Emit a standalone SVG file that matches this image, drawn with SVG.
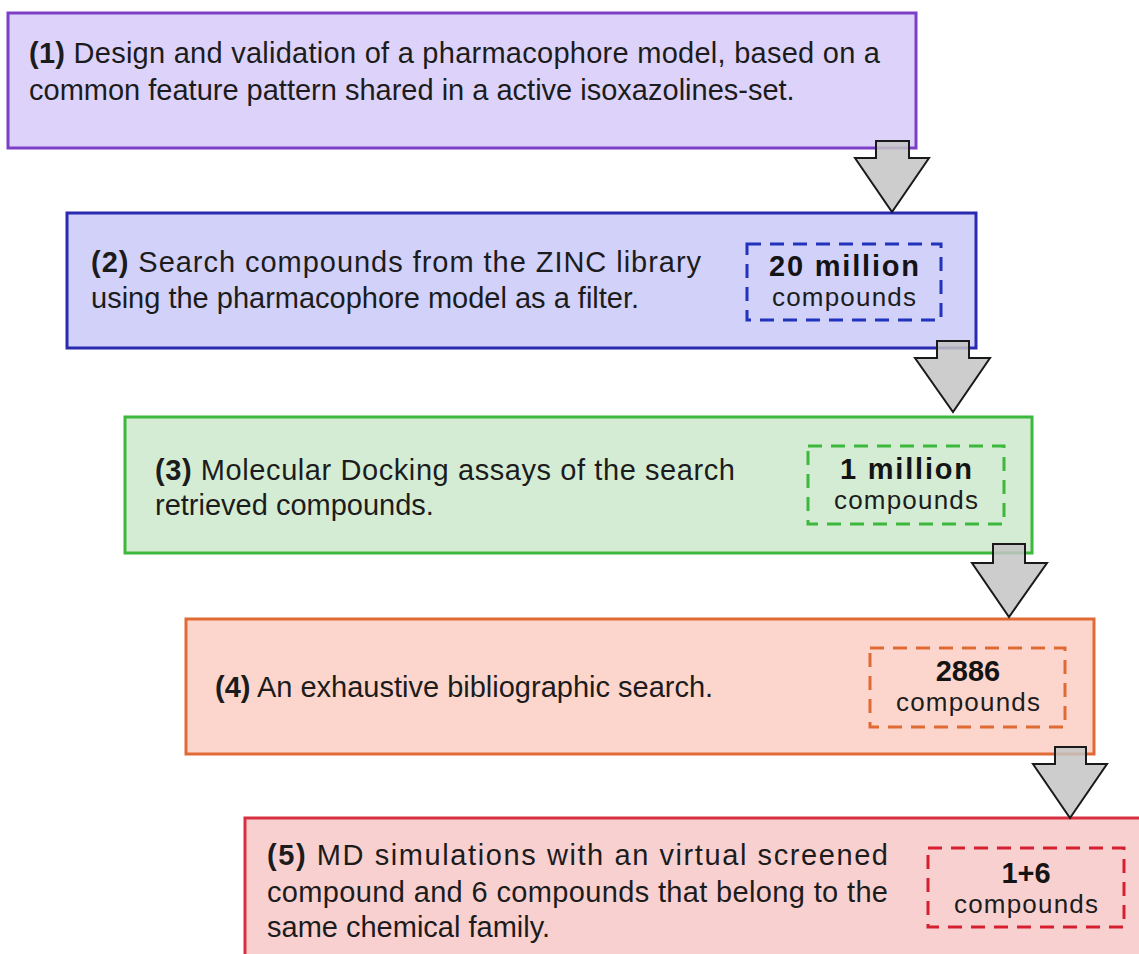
<svg xmlns="http://www.w3.org/2000/svg" width="1139" height="954" viewBox="0 0 1139 954">
<style>
.box{stroke-width:3}
.t{font-family:"Liberation Sans",Arial,sans-serif;font-size:29px;fill:#1c1c1c}
.b{font-weight:bold}
.num{font-family:"Liberation Sans",Arial,sans-serif;font-size:29px;font-weight:bold;fill:#141414;text-anchor:middle}
.cmp{font-family:"Liberation Sans",Arial,sans-serif;font-size:26px;fill:#1c1c1c;text-anchor:middle}
.dash{fill:none;stroke-width:3;stroke-dasharray:14 9}
.arrow{fill:#c4c4c4;fill-opacity:0.85;stroke:#1a1a1a;stroke-width:2;stroke-linejoin:miter}
</style>
<rect width="1139" height="954" fill="#ffffff"/>
<g id="node1">
<rect class="box" x="8" y="13" width="908" height="135" fill="#ddd3fa" stroke="#7d3fc6"/>
<text class="t" x="29" y="63" textLength="851" lengthAdjust="spacing"><tspan class="b">(1)</tspan> Design and validation of a pharmacophore model, based on a</text>
<text class="t" x="29" y="100">common feature pattern shared in a active isoxazolines-set.</text>
</g>
<g id="node2">
<rect class="box" x="67" y="213" width="909" height="135" fill="#d1d1fa" stroke="#2a2ab0"/>
<text class="t" x="91" y="272" textLength="610" lengthAdjust="spacing"><tspan class="b">(2)</tspan> Search compounds from the ZINC library</text>
<text class="t" x="91" y="308">using the pharmacophore model as a filter.</text>
<rect class="dash" x="747" y="244" width="194" height="76" stroke="#2233bb"/>
<text class="num" x="844" y="276" textLength="150" lengthAdjust="spacing">20 million</text>
<text class="cmp" x="844" y="306" textLength="144" lengthAdjust="spacing">compounds</text>
</g>
<g id="node3">
<rect class="box" x="125" y="417" width="907" height="136" fill="#d5ecd4" stroke="#3cb83c"/>
<text class="t" x="155" y="480" textLength="580" lengthAdjust="spacing"><tspan class="b">(3)</tspan> Molecular Docking assays of the search</text>
<text class="t" x="155" y="515">retrieved compounds.</text>
<rect class="dash" x="808" y="446" width="196" height="78" stroke="#3cb83c"/>
<text class="num" x="906" y="479" textLength="132" lengthAdjust="spacing">1 million</text>
<text class="cmp" x="906" y="509" textLength="144" lengthAdjust="spacing">compounds</text>
</g>
<g id="node4">
<rect class="box" x="186" y="619" width="908" height="135" fill="#fcd6cd" stroke="#e06a34"/>
<text class="t" x="215" y="697"><tspan class="b">(4)</tspan> An exhaustive bibliographic search.</text>
<rect class="dash" x="870" y="648" width="195" height="79" stroke="#e06a34"/>
<text class="num" x="968" y="681">2886</text>
<text class="cmp" x="968" y="711" textLength="144" lengthAdjust="spacing">compounds</text>
</g>
<g id="node5">
<rect class="box" x="245" y="818" width="900" height="140" fill="#f9d0d0" stroke="#d83040"/>
<text class="t" x="267" y="865" textLength="621" lengthAdjust="spacing"><tspan class="b">(5)</tspan> MD simulations with an virtual screened</text>
<text class="t" x="267" y="902" textLength="621" lengthAdjust="spacing">compound and 6 compounds that belong to the</text>
<text class="t" x="267" y="937">same chemical family.</text>
<rect class="dash" x="928" y="848" width="196" height="79" stroke="#d62030"/>
<text class="num" x="1026" y="883">1+6</text>
<text class="cmp" x="1026" y="913" textLength="144" lengthAdjust="spacing">compounds</text>
</g>
<g id="connectors">
<polygon class="arrow" points="876,141 909,141 909,158 929,158 892,212 855,158 876,158"/>
<polygon class="arrow" points="937,341 969,341 969,358 990,358 953,412 915,358 937,358"/>
<polygon class="arrow" points="993,544 1025,544 1025,563 1047,563 1009,617 972,563 993,563"/>
<polygon class="arrow" points="1055,747 1086,747 1086,764 1107,764 1070,818 1033,764 1055,764"/>
</g>
</svg>
